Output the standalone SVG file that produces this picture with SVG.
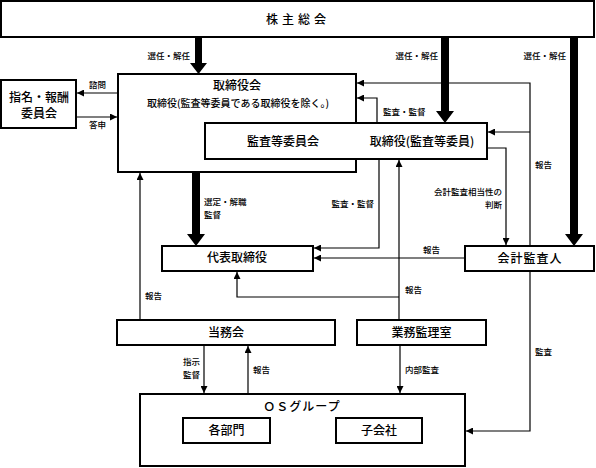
<svg xmlns="http://www.w3.org/2000/svg" width="596" height="468" viewBox="0 0 596 468">
<defs>
<marker id="ah" viewBox="0 0 8 8" refX="8" refY="4" markerWidth="7" markerHeight="7" markerUnits="userSpaceOnUse" orient="auto">
<path d="M0,0 L8,4 L0,8 Z" fill="#000"/>
</marker>
<style>
.box{fill:#fff;stroke:#000;stroke-width:2}
.t{font-family:"Noto Sans CJK JP","Noto Sans",sans-serif;font-size:12px;font-weight:500;fill:#000;text-anchor:middle}
.s{font-family:"Noto Sans CJK JP","Noto Sans",sans-serif;font-size:8.5px;font-weight:500;fill:#000}
.ln{fill:none;stroke:#000;stroke-width:1.2;marker-end:url(#ah)}
.thick{fill:#000;stroke:none}
</style>
</defs>
<rect width="596" height="468" fill="#fff"/>

<g id="shareholders">
<rect class="box" x="1" y="1" width="593" height="36"/>
<text class="t" x="298" y="24" letter-spacing="4">株主総会</text>
</g>

<g id="board">
<rect class="box" x="118" y="74" width="238" height="98"/>
<text class="t" x="237" y="90">取締役会</text>
<text class="t" x="238" y="106.5" style="font-size:10px">取締役(監査等委員である取締役を除く。)</text>
</g>

<g id="audit-committee">
<rect class="box" x="205" y="123" width="282" height="36"/>
<text class="t" x="283" y="146">監査等委員会</text>
<text class="t" x="422" y="146">取締役(監査等委員)</text>
</g>

<g id="nomination">
<rect class="box" x="1" y="80" width="75" height="48"/>
<text class="t" x="39" y="102">指名・報酬</text>
<text class="t" x="39" y="117.5">委員会</text>
</g>

<g id="representative">
<rect class="box" x="162" y="246" width="151" height="25"/>
<text class="t" x="237" y="262">代表取締役</text>
</g>

<g id="auditor">
<rect class="box" x="465" y="246" width="129" height="25"/>
<text class="t" x="530" y="263" letter-spacing="1">会計監査人</text>
</g>

<g id="executive">
<rect class="box" x="117" y="320" width="218" height="25"/>
<text class="t" x="226" y="337">当務会</text>
</g>

<g id="internal-audit">
<rect class="box" x="357" y="320" width="129" height="25"/>
<text class="t" x="421.5" y="337">業務監理室</text>
</g>

<g id="group">
<rect class="box" x="140" y="394" width="325" height="72"/>
<text class="t" x="302" y="411" letter-spacing="1">ＯＳグループ</text>
</g>

<g id="departments">
<rect class="box" x="183" y="418" width="87" height="25"/>
<text class="t" x="226.5" y="435">各部門</text>
</g>

<g id="subsidiaries">
<rect class="box" x="336" y="418" width="86" height="25"/>
<text class="t" x="379" y="435">子会社</text>
</g>

<g id="connectors">
<polygon class="thick" points="195,37 202,37 202,63 207,63 198.5,74 190,63 195,63"/>
<polygon class="thick" points="441,37 449,37 449,111 454,111 445,123 436,111 441,111"/>
<polygon class="thick" points="192,172 200,172 200,234 205,234 196,246 187,234 192,234"/>
<polygon class="thick" points="570,37 578,37 578,234 583,234 574,246 565,234 570,234"/>

<path class="ln" d="M118,93 H77"/>
<path class="ln" d="M76,117 H117"/>
<path class="ln" d="M530,246 V83 H357"/>
<path class="ln" d="M530,132 H488"/>
<path class="ln" d="M377,123 V98 H357"/>
<path class="ln" d="M487,148 H506 V245"/>
<path class="ln" d="M379,160 V248 H314"/>
<path class="ln" d="M465,258 H314"/>
<path class="ln" d="M399,320 V160"/>
<path class="ln" d="M399,297 H237 V272"/>
<path class="ln" d="M140,320 V173"/>
<path class="ln" d="M204,345 V393"/>
<path class="ln" d="M248,394 V346"/>
<path class="ln" d="M400,345 V393"/>
<path class="ln" d="M530,271 V431 H466"/>

<text class="s" x="190" y="59" text-anchor="end">選任・解任</text>
<text class="s" x="438" y="59" text-anchor="end">選任・解任</text>
<text class="s" x="566" y="59" text-anchor="end">選任・解任</text>
<text class="s" x="97.5" y="88" text-anchor="middle">諮問</text>
<text class="s" x="97.5" y="128" text-anchor="middle">答申</text>
<text class="s" x="383" y="115">監査・監督</text>
<text class="s" x="535" y="168">報告</text>
<text class="s" x="502" y="195" text-anchor="end">会計監査相当性の</text>
<text class="s" x="502" y="207.5" text-anchor="end">判断</text>
<text class="s" x="374" y="207" text-anchor="end">監査・監督</text>
<text class="s" x="204" y="205">選定・解職</text>
<text class="s" x="204" y="217.5">監督</text>
<text class="s" x="423" y="253">報告</text>
<text class="s" x="405" y="293">報告</text>
<text class="s" x="145" y="299">報告</text>
<text class="s" x="200" y="365" text-anchor="end">指示</text>
<text class="s" x="200" y="377.5" text-anchor="end">監督</text>
<text class="s" x="253" y="373">報告</text>
<text class="s" x="405" y="373">内部監査</text>
<text class="s" x="535" y="355">監査</text>
</g>
</svg>
